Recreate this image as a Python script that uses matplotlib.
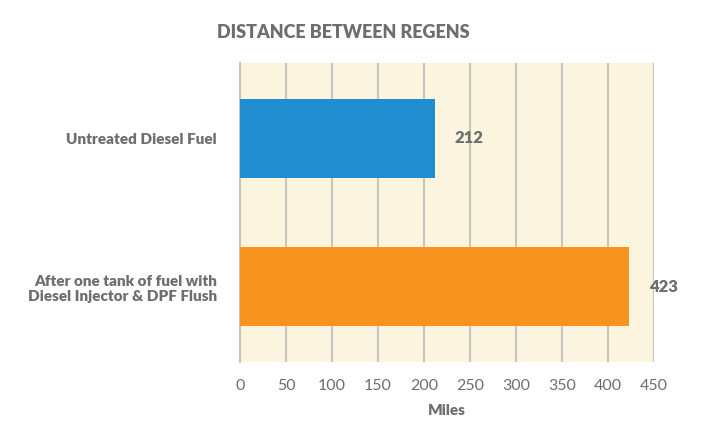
import matplotlib
matplotlib.use('Agg')
import matplotlib.pyplot as plt

#----------------------------------------------------------------------
# DATA
categories = ['Untreated Diesel Fuel',
              'After one tank of fuel with\nDiesel Injector & DPF Flush']
miles = [212, 423]
bar_colors = ['#1f8dd0', '#f79420']
xticks = [0, 50, 100, 150, 200, 250, 300, 350, 400, 450]

#----------------------------------------------------------------------
# STYLE
txt = '#6d6e71'
grid_col = '#c9c5bc'
bg = '#fbf4df'
plt.rcParams['font.family'] = ['Lato', 'DejaVu Sans']

fig = plt.figure(figsize=(7.2, 4.37), dpi=100)
ax = fig.add_axes([240/720, 1-362/437, 414/720, 299/437])
ax.set_facecolor(bg)

ypos = list(range(len(categories)))
ax.barh(ypos, miles, height=0.53, color=bar_colors, zorder=3)
ax.set_ylim(1.51, -0.51)
ax.set_xlim(0, 450)

# value labels
for y, v in zip(ypos, miles):
    ax.annotate(str(v), (v, y), xytext=(14, 0), textcoords='offset points',
                va='center', ha='left', fontsize=12, fontweight='heavy', color=txt)

# vertical grid
ax.set_xticks(xticks)
ax.xaxis.grid(True, color=grid_col, linewidth=1.5, zorder=1)
ax.set_axisbelow(True)
for s in ['top', 'right', 'bottom']:
    ax.spines[s].set_visible(False)
ax.spines['left'].set_color(grid_col)
ax.spines['left'].set_linewidth(1.5)
ax.axvline(450, color=grid_col, linewidth=1.5, zorder=1)

ax.tick_params(axis='x', length=0, pad=12, labelsize=11.5, labelcolor=txt)
ax.tick_params(axis='y', length=0, pad=16.5)
ax.set_yticks(ypos)
ax.set_yticklabels(categories, fontsize=11, fontweight='heavy', color=txt,
                   linespacing=1.2)
ax.set_xlabel('Miles', fontsize=11, fontweight='heavy', color=txt, labelpad=8)

fig.text(343/720, 1-33/437, 'DISTANCE BETWEEN REGENS', ha='center', va='center',
         fontsize=13, fontweight='heavy', color=txt)

fig.savefig('out.png', dpi=100, facecolor='white')
